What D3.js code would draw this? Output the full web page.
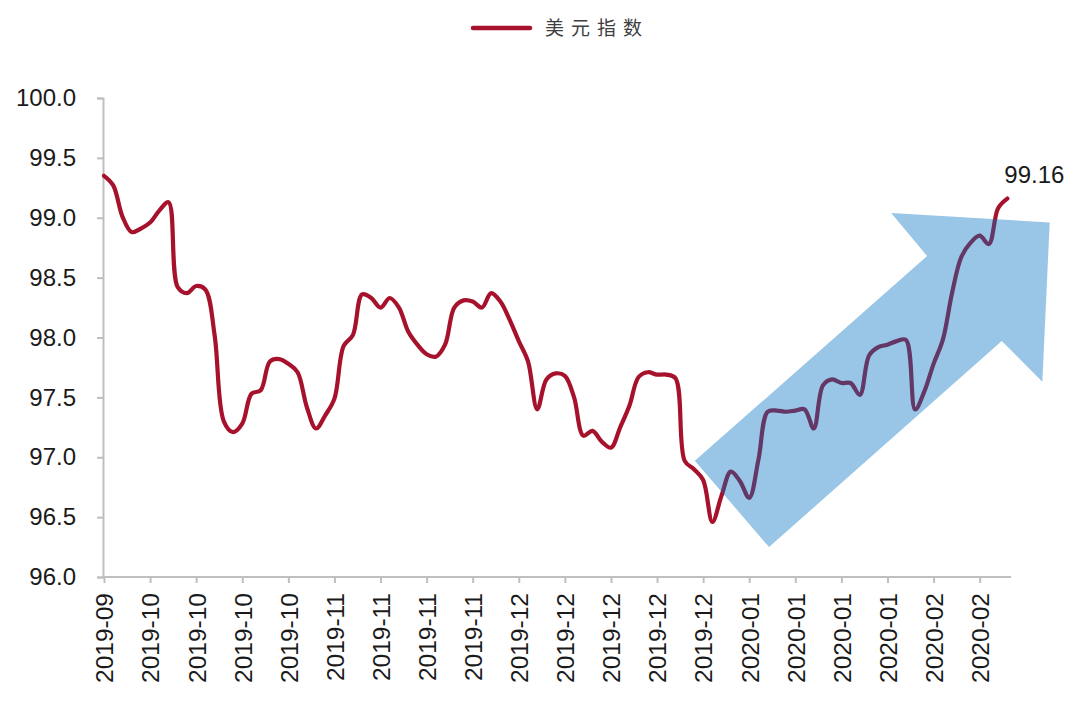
<!DOCTYPE html>
<html>
<head>
<meta charset="utf-8">
<script src="https://cdn.jsdelivr.net/npm/d3@7"></script>
<style>
  html, body { margin: 0; padding: 0; background: #fff; }
  svg { display: block; }
</style>
</head>
<body>
<svg id="chart"></svg>
<script>
// 美元指数 daily close, one point per trading day
const seriesName = '美元指数';
const dxy = [
  99.35, 99.27, 99.01, 98.88, 98.91, 98.96, 99.06, 99.13, 98.42, 98.37,
  98.43, 98.40, 98.02, 97.30, 97.21, 97.28, 97.53, 97.56, 97.80, 97.82,
  97.78, 97.71, 97.42, 97.24, 97.35, 97.49, 97.93, 98.02, 98.36, 98.33,
  98.25, 98.33, 98.25, 98.05, 97.94, 97.86, 97.84, 97.94, 98.25, 98.31,
  98.30, 98.25, 98.37, 98.30, 98.15, 97.97, 97.80, 97.40, 97.65, 97.70,
  97.68, 97.50, 97.18, 97.22, 97.13, 97.08, 97.25, 97.43, 97.67, 97.71,
  97.69, 97.69, 97.66, 96.97, 96.90, 96.81, 96.46, 96.68, 96.88, 96.80,
  96.66, 96.98, 97.38, 97.39, 97.38, 97.39, 97.40, 97.24, 97.60, 97.65,
  97.62, 97.62, 97.52, 97.85, 97.92, 97.94, 97.97, 97.98, 97.40, 97.55,
  97.78, 97.98, 98.37, 98.67, 98.79, 98.85, 98.78, 99.08, 99.16
];
// a label every 5 trading days
const tickEvery = 5;
const xLabels = [
  '2019-09', '2019-10', '2019-10', '2019-10', '2019-10',
  '2019-11', '2019-11', '2019-11', '2019-11',
  '2019-12', '2019-12', '2019-12', '2019-12', '2019-12',
  '2020-01', '2020-01', '2020-01', '2020-01',
  '2020-02', '2020-02'
];
const yTicks = [96.0, 96.5, 97.0, 97.5, 98.0, 98.5, 99.0, 99.5, 100.0];
const lastLabel = '99.16';
// trend arrow outline, in (day index, index value)
const arrowPts = [
  [64.1, 96.97], [89.3, 98.68], [85.4, 99.04], [102.6, 98.96],
  [101.8, 97.63], [97.4, 97.97], [72.15, 96.25]
];

const W = 1080, H = 709;
const RED = '#A6122B';
const AXIS = '#BFBFBF';
const FONT = '"Liberation Sans", Arial, sans-serif';

const svg = d3.select('#chart').attr('width', W).attr('height', H);

const x = d3.scaleLinear().domain([0, 98.4]).range([104, 1011]);
const y = d3.scaleLinear().domain([96, 100]).range([577, 98]);

// Y axis
const yAxis = svg.append('g')
  .attr('transform', 'translate(103,0)')
  .call(d3.axisLeft(y).tickValues(yTicks).tickFormat(d3.format('.1f')).tickSize(6).tickPadding(21));
yAxis.select('.domain').attr('stroke', AXIS).attr('stroke-width', 2);
yAxis.selectAll('.tick line').attr('stroke', AXIS).attr('stroke-width', 2);
yAxis.selectAll('text')
  .attr('font-family', FONT).attr('font-size', '24px').attr('fill', '#1a1a1a');

// X axis
const xTickVals = xLabels.map((_, i) => i * tickEvery);
const xAxis = svg.append('g')
  .attr('transform', 'translate(0,577)')
  .call(d3.axisBottom(x).tickValues(xTickVals).tickFormat((d, i) => xLabels[i]).tickSize(6).tickSizeOuter(0));
xAxis.select('.domain').attr('stroke', AXIS).attr('stroke-width', 2)
  .attr('d', `M103,0H${x.range()[1]}`);
xAxis.selectAll('.tick line').attr('stroke', AXIS).attr('stroke-width', 2);
xAxis.selectAll('text')
  .attr('font-family', FONT).attr('font-size', '24.5px').attr('fill', '#1a1a1a')
  .attr('text-anchor', 'end')
  .attr('transform', 'rotate(-90)')
  .attr('x', -16).attr('y', 0).attr('dy', '0.36em');

// Line
const line = d3.line()
  .x((d, i) => x(i))
  .y(d => y(d))
  .curve(d3.curveCatmullRom.alpha(0.5));

svg.append('path')
  .datum(dxy)
  .attr('d', line)
  .attr('fill', 'none')
  .attr('stroke', RED)
  .attr('stroke-width', 4.2)
  .attr('stroke-linejoin', 'round')
  .attr('stroke-linecap', 'round');

// Trend arrow, translucent on top of the line
svg.append('polygon')
  .attr('points', arrowPts.map(p => `${x(p[0])},${y(p[1])}`).join(' '))
  .attr('fill', '#0070C0')
  .attr('fill-opacity', 0.4);

// Last value label
const n = dxy.length - 1;
svg.append('text')
  .attr('x', x(n) - 3).attr('y', y(dxy[n]) - 16)
  .attr('font-family', FONT).attr('font-size', '24px').attr('fill', '#1a1a1a')
  .text(lastLabel);

// Legend
const lg = svg.append('g').attr('transform', 'translate(473,28)');
lg.append('line')
  .attr('x1', 0).attr('x2', 57).attr('y1', 0).attr('y2', 0)
  .attr('stroke', RED).attr('stroke-width', 4.5).attr('stroke-linecap', 'round');
lg.append('text')
  .attr('x', 72).attr('y', 0).attr('dy', '0.36em')
  .attr('font-family', '"Noto Sans CJK SC", sans-serif')
  .attr('font-size', '19px').attr('letter-spacing', '7px').attr('fill', '#404040')
  .text(seriesName);
</script>
</body>
</html>
